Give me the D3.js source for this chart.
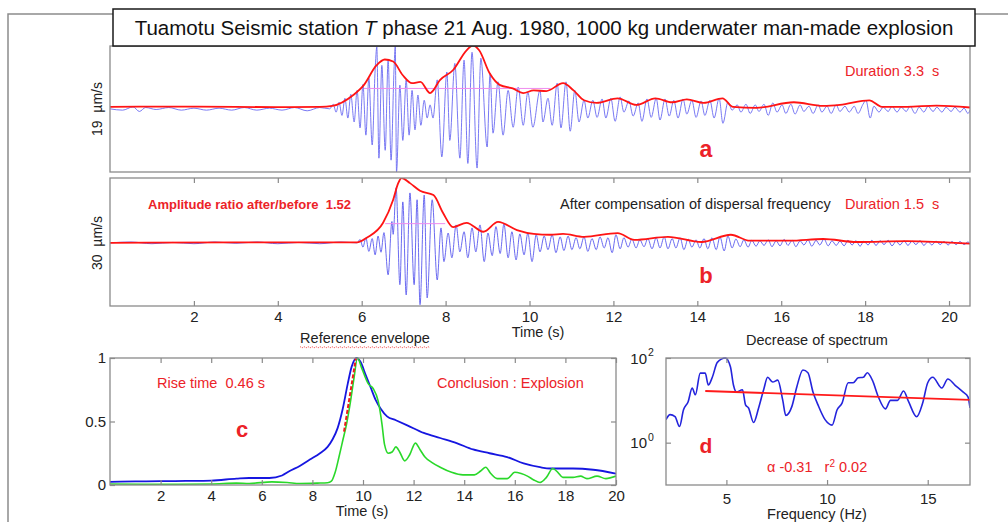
<!DOCTYPE html>
<html>
<head>
<meta charset="utf-8">
<script src="https://cdn.jsdelivr.net/npm/d3@7"></script>
<style>
  body { margin: 0; background: #fff; }
  svg { display: block; font-family: "Liberation Sans", Arial, sans-serif; }
</style>
</head>
<body>
<svg id="chart" width="1008" height="522"></svg>
<script>
// ---------------- data ----------------
// (a) raw T-phase record, velocity in µm/s, [time s, value]
const aSignal = [
  [0,-0.1],[0.3,-0.3],[0.55,0.2],[0.7,-0.5],[0.85,0.1],[1.1,-0.2],[1.4,0.1],[1.7,-0.3],[2.0,0.0],[2.3,-0.3],
  [2.6,0.0],[2.9,-0.3],[3.2,0.1],[3.5,-0.3],[3.8,0.0],[4.1,-0.3],[4.4,0.1],[4.7,-0.4],[5.0,0.1],[5.24,-0.1],
  [5.32,0.6],[5.39,-0.6],[5.46,0.9],[5.53,-1.1],[5.60,1.5],[5.67,-1.5],[5.74,2.1],[5.82,-2.1],[5.89,2.7],[5.96,-3.0],
  [6.03,3.6],[6.10,-4.1],[6.17,4.6],[6.25,-5.6],[6.32,5.8],[6.36,9.3],[6.41,-7.6],[6.48,6.5],[6.56,-6.4],[6.63,7.3],
  [6.70,-7.9],[6.77,5.8],[6.80,9.4],[6.83,-9.7],[6.91,3.5],[6.98,-4.9],[7.06,4.3],[7.13,-4.1],[7.20,2.7],[7.27,-3.3],
  [7.34,2.0],[7.41,-2.6],[7.49,1.2],[7.56,-1.5],[7.63,0.5],[7.70,-1.5],[7.80,4.3],[7.91,-7.4],[8.03,5.5],[8.10,-4.9],
  [8.22,6.8],[8.34,-7.6],[8.44,7.3],[8.53,-8.4],[8.63,8.5],[8.75,-9.1],[8.84,7.6],[8.99,-5.9],[9.06,5.3],[9.13,-3.8],
  [9.25,4.0],[9.37,-4.1],[9.49,2.7],[9.61,-2.9],[9.73,3.2],[9.85,-2.6],[9.96,2.4],[10.08,-2.9],[10.25,2.7],[10.32,-2.1],
  [10.44,1.5],[10.54,-2.6],[10.66,3.8],[10.75,-3.0],[10.87,4.0],[10.97,-3.5],[11.08,2.7],[11.18,-2.1],[11.30,1.2],[11.39,-1.5],
  [11.51,1.2],[11.61,-1.4],[11.73,1.4],[11.82,-1.5],[11.94,1.5],[12.04,-2.0],[12.16,1.7],[12.25,-0.6],[12.37,1.1],[12.47,-1.2],
  [12.59,0.8],[12.68,-2.0],[12.80,1.4],[12.90,-1.4],[13.02,1.5],[13.11,-1.8],[13.23,1.4],[13.33,-1.2],[13.44,1.2],[13.54,-1.5],
  [13.66,1.4],[13.75,-0.9],[13.87,1.2],[13.97,-1.4],[14.09,1.1],[14.18,-1.1],[14.30,1.2],[14.40,-1.5],[14.52,1.5],[14.61,-2.3],
  [14.73,0.9],[14.83,-0.3],[14.95,0.5],[15.04,-0.6],[15.16,0.6],[15.26,-0.8],[15.38,0.5],[15.47,-0.5],[15.59,0.6],[15.69,-1.1],
  [15.80,0.8],[15.90,-0.6],[16.02,0.5],[16.11,-0.8],[16.23,0.6],[16.33,-0.9],[16.45,0.5],[16.54,-0.5],[16.66,0.3],[16.76,-0.8],
  [16.88,0.5],[16.97,-0.6],[17.09,0.3],[17.19,-0.8],[17.31,0.5],[17.40,-0.5],[17.52,0.3],[17.62,-0.6],[17.74,0.3],[17.83,-0.8],
  [17.95,0.6],[18.02,1.2],[18.12,-1.5],[18.21,0.3],[18.33,-0.6],[18.43,0.15],[18.55,-0.5],[18.64,0.3],[18.76,-0.6],[18.86,0.15],
  [18.98,-0.5],[19.07,0.3],[19.19,-0.8],[19.29,0.15],[19.40,-0.6],[19.50,0.3],[19.62,-0.5],[19.71,0.15],[19.83,-0.6],[19.93,0.15],
  [20.05,-0.5],[20.14,0.15],[20.26,-0.6],[20.36,0.0],[20.45,-0.8],[20.50,-0.3]
];
// (a) envelope
const aEnvelope = [
  [0,0.2],[2,0.25],[4,0.15],[5.0,0.2],[5.3,0.35],[5.8,2.0],[6.05,3.5],[6.35,6.5],[6.55,7.4],[6.75,7.1],
  [6.98,5.0],[7.2,3.8],[7.4,4.0],[7.63,2.3],[7.87,4.3],[8.18,5.8],[8.5,8.8],[8.65,9.5],[8.8,8.8],[9.05,5.3],
  [9.3,3.5],[9.6,3.0],[9.85,2.3],[10.1,2.7],[10.4,2.6],[10.8,3.8],[11.05,2.7],[11.3,1.2],[11.6,0.8],[12.1,1.5],
  [12.55,0.5],[13.0,1.5],[13.4,0.9],[13.75,1.35],[14.15,0.8],[14.6,1.5],[14.85,0.2],[15.4,0.05],[16.3,0.9],[17.0,0.35],
  [17.4,0.5],[18.1,1.2],[18.4,0.2],[19.0,0.2],[19.7,0.4],[20.5,0.1]
];
const aThreshold = [[6.05,3.0],[10.5,3.0]];

// (b) after dispersion compensation, µm/s
const bSignal = [
  [0,0.0],[0.5,0.2],[1.0,-0.2],[1.5,0.1],[2.0,-0.2],[2.5,0.2],[3.0,-0.1],[3.5,0.2],[4.0,-0.2],[4.5,0.1],
  [5.0,-0.2],[5.5,0.2],[5.89,0.0],[5.96,0.8],[6.03,-1.0],[6.10,1.2],[6.17,-2.0],[6.25,1.0],[6.32,-2.8],[6.39,1.6],
  [6.46,-2.2],[6.53,2.4],[6.63,-7.5],[6.72,5.0],[6.75,2.0],[6.82,12.9],[6.91,-9.8],[6.98,9.6],[7.06,-12.2],[7.15,11.7],
  [7.25,-9.8],[7.32,10.1],[7.39,-14.5],[7.49,11.2],[7.56,-12.9],[7.68,10.1],[7.80,-8.7],[7.89,3.5],[7.96,-4.4],[8.06,2.3],
  [8.15,-3.5],[8.25,4.2],[8.34,-2.1],[8.44,2.6],[8.53,-3.5],[8.63,3.5],[8.72,-2.1],[8.82,4.2],[8.92,-4.4],[9.01,2.3],
  [9.11,-3.0],[9.20,3.8],[9.30,-2.5],[9.39,4.4],[9.49,-3.5],[9.58,2.6],[9.68,-4.0],[9.77,2.1],[9.87,-2.8],[9.96,2.3],
  [10.06,-4.4],[10.16,1.9],[10.25,-2.1],[10.35,1.6],[10.44,-1.6],[10.54,1.9],[10.63,-2.3],[10.73,1.4],[10.82,-1.8],[10.92,1.6],
  [11.01,-1.6],[11.11,1.2],[11.20,-1.4],[11.30,1.4],[11.39,-2.0],[11.49,1.0],[11.59,-1.6],[11.68,1.4],[11.78,-1.2],[11.87,1.2],
  [11.97,-2.3],[12.06,1.9],[12.16,-1.4],[12.25,1.2],[12.35,-1.0],[12.44,0.9],[12.54,-1.2],[12.63,0.7],[12.73,-0.9],[12.82,1.0],
  [12.92,-1.4],[13.02,1.2],[13.11,-1.2],[13.21,1.4],[13.30,-1.4],[13.40,1.0],[13.49,-1.2],[13.59,1.2],[13.68,-1.6],[13.78,0.9],
  [13.87,-1.0],[13.97,0.7],[14.06,-1.2],[14.16,1.0],[14.25,-1.4],[14.35,1.2],[14.45,-1.6],[14.54,1.4],[14.64,-1.9],[14.73,1.6],
  [14.83,-1.2],[14.92,0.9],[15.02,-0.9],[15.11,0.7],[15.21,-1.0],[15.30,0.6],[15.40,-0.8],[15.49,0.5],[15.59,-0.6],[15.69,0.7],
  [15.78,-0.9],[15.88,0.5],[15.97,-0.7],[16.07,0.8],[16.16,-0.6],[16.26,0.6],[16.35,-0.9],[16.45,0.5],[16.54,-0.5],[16.64,0.7],
  [16.73,-0.8],[16.83,0.6],[16.92,-0.5],[17.02,0.9],[17.12,-0.7],[17.21,0.5],[17.31,-0.6],[17.40,0.4],[17.50,-0.7],[17.59,0.6],
  [17.69,-0.5],[17.78,0.5],[17.88,-0.8],[17.97,0.4],[18.07,-0.5],[18.16,0.6],[18.26,-0.6],[18.36,0.5],[18.45,-0.4],[18.55,0.6],
  [18.64,-0.7],[18.74,0.4],[18.83,-0.5],[18.93,0.5],[19.02,-0.6],[19.12,0.4],[19.21,-0.4],[19.31,0.5],[19.40,-0.6],[19.50,0.3],
  [19.59,-0.5],[19.69,0.4],[19.79,-0.4],[19.88,0.3],[19.98,-0.5],[20.07,0.3],[20.17,-0.4],[20.26,0.3],[20.36,-0.4],[20.45,0.2],
  [20.50,-0.2]
];
const bEnvelope = [
  [0,0.0],[3,0.1],[5.89,0.1],[6.12,1.2],[6.51,4.7],[6.75,10.1],[6.87,14.0],[6.95,15.2],[7.15,14.0],[7.39,12.2],
  [7.71,11.2],[7.94,7.0],[8.18,3.7],[8.5,4.7],[8.9,2.6],[9.25,4.9],[9.7,3.0],[10.1,2.1],[10.5,1.9],[10.8,2.1],
  [11.3,1.4],[12.1,2.3],[12.5,0.7],[13.3,1.4],[14.1,0.2],[14.8,1.9],[15.25,0.5],[16.2,0.5],[17.0,0.9],[17.8,0.2],
  [19.0,0.4],[20.5,-0.2]
];
const bThreshold = [[6.56,4.5],[7.99,4.5]];

// (c) normalised envelopes
const cReference = [
  [0,0.025],[1,0.028],[2,0.03],[3,0.032],[4,0.035],[5,0.05],[5.5,0.055],[6.3,0.055],[6.8,0.075],[7.1,0.11],
  [7.5,0.15],[7.9,0.2],[8.3,0.25],[8.6,0.3],[8.8,0.36],[9.0,0.45],[9.2,0.6],[9.4,0.8],[9.55,0.93],[9.75,1.0],
  [9.9,0.97],[10.1,0.87],[10.3,0.77],[10.5,0.67],[10.7,0.6],[10.95,0.54],[11.3,0.51],[11.75,0.47],[12.4,0.41],[13.05,0.37],
  [13.7,0.33],[14.35,0.28],[15.0,0.25],[15.7,0.22],[16.35,0.17],[17.0,0.14],[17.4,0.13],[18.3,0.13],[19.1,0.12],[20,0.09]
];
const cEvent = [
  [0,0.008],[2,0.006],[4,0.008],[5,0.015],[5.5,0.012],[6.4,0.025],[7.0,0.02],[7.5,0.012],[8.2,0.015],[8.6,0.018],
  [8.75,0.03],[8.9,0.1],[9.05,0.22],[9.2,0.35],[9.35,0.48],[9.5,0.65],[9.65,0.85],[9.78,1.0],[9.95,0.92],[10.2,0.8],
  [10.4,0.76],[10.6,0.66],[10.75,0.48],[10.85,0.32],[11.0,0.25],[11.15,0.26],[11.3,0.3],[11.45,0.26],[11.65,0.19],[11.85,0.24],
  [12.07,0.33],[12.25,0.28],[12.45,0.22],[12.7,0.18],[13.05,0.14],[13.5,0.1],[13.95,0.08],[14.4,0.08],[14.65,0.11],[14.85,0.14],
  [15.05,0.09],[15.3,0.05],[15.7,0.05],[16.0,0.1],[16.25,0.09],[16.5,0.07],[16.75,0.04],[17.0,0.02],[17.25,0.06],[17.5,0.13],
  [17.7,0.1],[17.9,0.06],[18.3,0.06],[18.6,0.07],[18.85,0.05],[19.25,0.07],[19.6,0.05],[20,0.07]
];
const cRise = [[9.25,0.42],[9.72,1.0]];

// (d) amplitude spectrum, [frequency Hz, amplitude]
const dSpectrum = [
  [2.0,3.5],[2.2,4.6],[2.45,4.1],[2.67,2.4],[2.87,6.0],[3.1,9.3],[3.3,19.5],[3.46,13.5],[3.7,44],[3.95,44],
  [4.1,23],[4.3,35],[4.55,79],[4.95,100],[5.2,62],[5.35,23],[5.5,15.8],[5.8,17.8],[5.95,7.8],[6.1,6.6],
  [6.35,3.0],[6.6,6.6],[6.85,17.8],[7.05,35],[7.3,27],[7.55,30],[7.8,10],[7.95,4.4],[8.25,7.1],[8.5,21],
  [8.8,52],[9.05,45],[9.3,15.8],[9.55,7.8],[9.9,3.5],[10.25,2.6],[10.5,6.0],[10.75,8.7],[11.05,26],[11.3,26],
  [11.55,34],[11.8,35],[12.0,45],[12.25,30],[12.55,12],[12.9,6.3],[13.15,10],[13.5,10],[13.8,16.6],[14.05,9.3],
  [14.45,4.1],[14.75,8.7],[15.0,26],[15.25,35],[15.7,19.5],[16.0,32],[16.35,23],[16.75,15.8],[17.0,12],[17.1,6.6]
];
const dFit = [[3.95,16.6],[17.1,10.2]];

const timeTicks = [2,4,6,8,10,12,14,16,18,20];
const freqTicks = [5,10,15];
const levelTicks = [0,0.5,1];
const decadeTicks = [0,2];

// ---------------- drawing ----------------
const svg = d3.select("#chart");
const RED = "#ec2228", AXIS = "#8a8a8a", LABEL = "#222";
const TXT = 14.5, TICK = 15;

// outer frame
svg.append("path").attr("d", "M1008,14H8V522")
  .attr("fill", "none").attr("stroke", "#8c8c8c").attr("stroke-width", 1.5);

function clip(id, x, y, w, h) {
  svg.append("clipPath").attr("id", id).append("rect")
    .attr("x", x).attr("y", y).attr("width", w).attr("height", h);
  return "url(#" + id + ")";
}
function frame(x0, y0, x1, y1) {
  svg.append("rect").attr("x", x0).attr("y", y0).attr("width", x1 - x0).attr("height", y1 - y0)
    .attr("fill", "none").attr("stroke", AXIS).attr("stroke-width", 1.3);
}
function styleAxis(g) {
  g.select(".domain").remove();
  g.selectAll(".tick line").attr("stroke", AXIS).attr("stroke-width", 1.2);
  g.selectAll(".tick text").attr("fill", LABEL).style("font-size", TICK + "px")
    .style("font-family", '"Liberation Sans", Arial, sans-serif');
}
function plotLine(data, x, y, curve, color, width, cp) {
  return svg.append("path").datum(data)
    .attr("d", d3.line().x(d => x(d[0])).y(d => y(d[1])).curve(curve))
    .attr("fill", "none").attr("stroke", color).attr("stroke-width", width)
    .attr("clip-path", cp);
}
function label(txt, x, y, opts = {}) {
  const t = svg.append("text").attr("x", x).attr("y", y).text(txt)
    .style("font-size", (opts.size || TXT) + "px").style("white-space", "pre")
    .attr("fill", opts.color || LABEL).attr("text-anchor", opts.anchor || "start");
  if (opts.bold) t.style("font-weight", "bold");
  return t;
}

// ----- panels a / b share the time axis -----
const xT = d3.scaleLinear().domain([0, 20.5]).range([110, 970]);
const yA = d3.scaleLinear().domain([-9.7, 9.45]).range([172, 46]);
const yB = d3.scaleLinear().domain([-14.8, 15.2]).range([306, 178]);

const cpA = clip("clipA", 110, 46, 860, 126);
plotLine(aSignal, xT, yA, d3.curveMonotoneX, "#6a6af2", 1, cpA).attr("stroke-opacity", 0.9);
plotLine(aThreshold, xT, yA, d3.curveLinear, "#ee8cee", 1, cpA);
plotLine(aEnvelope, xT, yA, d3.curveMonotoneX, "#ff1414", 1.8, cpA);
frame(110, 46, 970, 172);

const cpB = clip("clipB", 110, 178, 860, 128);
plotLine(bSignal, xT, yB, d3.curveMonotoneX, "#5a5aee", 1, cpB).attr("stroke-opacity", 0.9);
plotLine(bThreshold, xT, yB, d3.curveLinear, "#ee8cee", 1, cpB);
plotLine(bEnvelope, xT, yB, d3.curveMonotoneX, "#ff1414", 1.8, cpB);
styleAxis(svg.append("g").attr("transform", "translate(0,306)")
  .call(d3.axisBottom(xT).tickValues(timeTicks).tickSize(-5).tickPadding(5)));
styleAxis(svg.append("g").attr("transform", "translate(0,178)")
  .call(d3.axisTop(xT).tickValues(timeTicks).tickSize(-5).tickFormat("")));
frame(110, 178, 970, 306);

// title box
svg.append("rect").attr("x", 113).attr("y", 9).attr("width", 862).attr("height", 37)
  .attr("fill", "#fff").attr("stroke", "#1a1a1a").attr("stroke-width", 1.5);
const title = svg.append("text").attr("x", 544).attr("y", 34.5).attr("text-anchor", "middle")
  .style("font-size", "20.5px").attr("fill", "#111");
title.append("tspan").text("Tuamotu Seismic station ");
title.append("tspan").style("font-style", "italic").text("T");
title.append("tspan").text(" phase 21 Aug. 1980, 1000 kg underwater man-made explosion");

// side labels
svg.append("text").attr("transform", "translate(102,109) rotate(-90)").attr("text-anchor", "middle")
  .style("font-size", "14px").style("white-space", "pre").attr("fill", LABEL).text("19  µm/s");
svg.append("text").attr("transform", "translate(102,243) rotate(-90)").attr("text-anchor", "middle")
  .style("font-size", "14px").style("white-space", "pre").attr("fill", LABEL).text("30  µm/s");

label("Duration 3.3  s", 845, 76, { color: RED });
label("a", 706, 157, { color: RED, size: 23, bold: true, anchor: "middle" });
label("Amplitude ratio after/before  1.52", 148, 209, { color: RED, bold: true, size: 13 });
label("After compensation of dispersal frequency", 560, 209, {});
label("Duration 1.5  s", 845, 209, { color: RED });
label("b", 706, 283, { color: RED, size: 22, bold: true, anchor: "middle" });
label("Time (s)", 538, 337, { anchor: "middle" });

// ----- panel c -----
const xC = d3.scaleLinear().domain([0, 20]).range([110, 616]);
const yC = d3.scaleLinear().domain([0, 1]).range([485, 358]);
const cpC = clip("clipC", 110, 356, 506, 130);
plotLine(cReference, xC, yC, d3.curveMonotoneX, "#1616e0", 1.8, cpC);
plotLine(cEvent, xC, yC, d3.curveMonotoneX, "#2ad82a", 1.6, cpC);
plotLine(cRise, xC, yC, d3.curveLinear, "#ee1c1c", 2, cpC).attr("stroke-dasharray", "4,2");
styleAxis(svg.append("g").attr("transform", "translate(0,485)")
  .call(d3.axisBottom(xC).tickValues(timeTicks).tickSize(-5).tickPadding(5)));
styleAxis(svg.append("g").attr("transform", "translate(0,358)")
  .call(d3.axisTop(xC).tickValues(timeTicks).tickSize(-5).tickFormat("")));
styleAxis(svg.append("g").attr("transform", "translate(110,0)")
  .call(d3.axisLeft(yC).tickValues(levelTicks).tickSize(-5).tickPadding(4).tickFormat(d3.format(""))));
styleAxis(svg.append("g").attr("transform", "translate(616,0)")
  .call(d3.axisRight(yC).tickValues(levelTicks).tickSize(-5).tickFormat("")));
frame(110, 358, 616, 485);

label("Reference envelope", 365, 343, { anchor: "middle" });
// spell-check style squiggle under the heading
const sq = d3.range(300, 431, 2).map((x, i) => [x, 347 + (i % 2 ? 1 : -0.5)]);
svg.append("path").attr("d", d3.line()(sq)).attr("fill", "none")
  .attr("stroke", "#f04040").attr("stroke-width", 0.8).attr("stroke-dasharray", "1.5,1");
label("Rise time  0.46 s", 157, 388, { color: RED });
label("Conclusion : Explosion", 437, 388, { color: RED });
label("c", 242, 437, { color: RED, size: 22, bold: true, anchor: "middle" });
label("Time (s)", 362, 516, { anchor: "middle" });

// ----- panel d -----
const xD = d3.scaleLinear().domain([2, 17.1]).range([666, 970]);
const yD = d3.scaleLog().domain([0.1, 100]).range([485, 358]);
const cpD = clip("clipD", 666, 356, 304, 130);
plotLine(dSpectrum, xD, yD, d3.curveMonotoneX, "#2424dc", 1.6, cpD);
plotLine(dFit, xD, yD, d3.curveLinear, "#ff1a1a", 1.8, cpD);
styleAxis(svg.append("g").attr("transform", "translate(0,485)")
  .call(d3.axisBottom(xD).tickValues(freqTicks).tickSize(-5).tickPadding(8)));
styleAxis(svg.append("g").attr("transform", "translate(0,358)")
  .call(d3.axisTop(xD).tickValues(freqTicks).tickSize(-5).tickFormat("")));
const yDticks = decadeTicks.map(p => Math.pow(10, p));
styleAxis(svg.append("g").attr("transform", "translate(666,0)")
  .call(d3.axisLeft(yD).tickValues(yDticks).tickSize(-5).tickFormat("")));
styleAxis(svg.append("g").attr("transform", "translate(970,0)")
  .call(d3.axisRight(yD).tickValues(yDticks).tickSize(-5).tickFormat("")));
decadeTicks.forEach(p => {
  svg.append("text").attr("x", 647).attr("y", yD(Math.pow(10, p)) + 5.5)
    .attr("text-anchor", "end").style("font-size", TICK + "px").attr("fill", LABEL).text("10");
  svg.append("text").attr("x", 648).attr("y", yD(Math.pow(10, p)) - 2)
    .style("font-size", "10.5px").attr("fill", LABEL).text(p);
});
frame(666, 358, 970, 485);

label("Decrease of spectrum", 817, 345, { anchor: "middle" });
label("d", 706, 453, { color: RED, size: 21, bold: true, anchor: "middle" });
const fitText = svg.append("text").attr("x", 767).attr("y", 472).style("font-size", TXT + "px")
  .style("white-space", "pre").attr("fill", RED);
fitText.append("tspan").text("\u03b1 -0.31   r");
fitText.append("tspan").attr("dy", -5).style("font-size", "10px").text("2");
fitText.append("tspan").attr("dy", 5).text(" 0.02");
label("Frequency (Hz)", 817, 519, { anchor: "middle" });
</script>
</body>
</html>
